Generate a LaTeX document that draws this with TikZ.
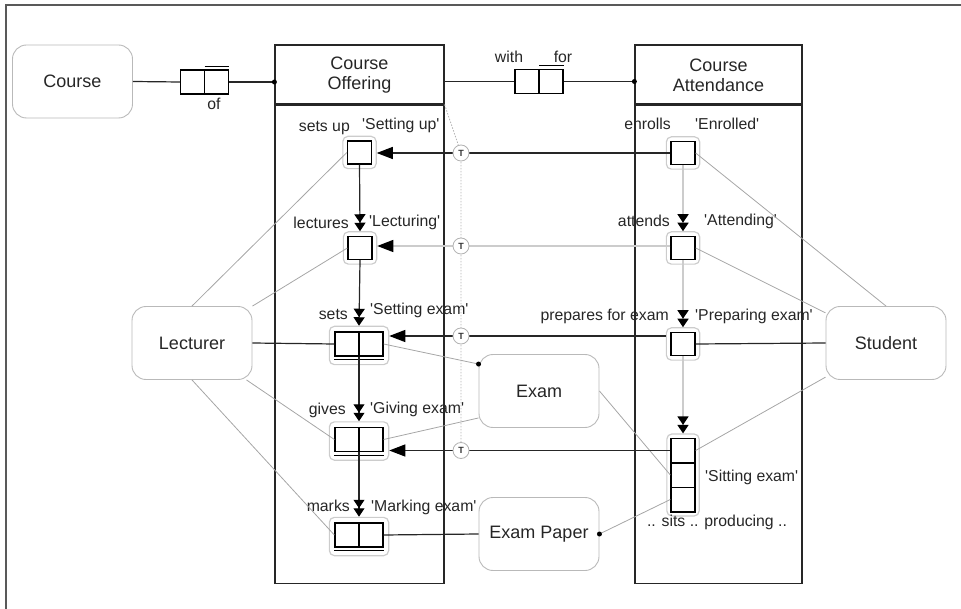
\documentclass[tikz,border=0pt]{standalone}
\usepackage{fontspec}
\setmainfont{Liberation Sans}
\usetikzlibrary{arrows.meta,fit,calc}
\newcommand{\qs}{\textquotesingle}
\begin{document}
\begin{tikzpicture}[x=1pt,y=-1pt,
  ent/.style={draw=gray!55, line width=0.9pt, rounded corners=14pt, minimum width=120pt, minimum height=73pt, font=\fontsize{18}{21}\selectfont, inner sep=0pt, text=black!85},
  lane/.style={draw=black!85, line width=1.2pt, minimum width=169pt, inner sep=0pt},
  hdtext/.style={align=center, font=\fontsize{18}{20}\selectfont, text=black!85, inner sep=0pt},
  sq/.style={draw=black, line width=1.3pt, minimum width=24pt, minimum height=23pt, inner sep=0pt},
  dbl/.style={sq, minimum width=48pt, minimum height=24pt},
  halo/.style={draw=gray!40, line width=1.2pt, rounded corners=5pt, inner sep=4pt},
  lbl/.style={font=\fontsize{15.8}{17}\selectfont, inner sep=0pt, text=black!85},
  blk/.style={draw=black!85, line width=1.2pt},
  gry/.style={draw=gray!70, line width=0.8pt},
  lgry/.style={draw=gray!40, line width=1.3pt},
  hd/.style={-{Triangle[length=16pt,width=12pt,color=black]}},
  vd/.style={-{Triangle[length=8.5pt,width=11pt,color=black]Triangle[length=8.5pt,width=11pt,color=black]}},
  tc/.style={circle, draw=gray!60, fill=white, line width=0.8pt, minimum size=16pt, inner sep=0pt, font=\fontsize{9}{9}\selectfont\bfseries, text=black!80},
]
\useasboundingbox (0,0) rectangle (961,609);
\draw[draw=black!65, line width=1.5pt] (961,5) -- (6,5) -- (6,609);

% entities
\node[ent] (crs) at (72.5,81.5) {Course};
\node[ent] (lec) at (192,343) {Lecturer};
\node[ent] (stu) at (886,343) {Student};
\node[ent] (exm) at (539,391) {Exam};
\node[ent] (ep) at (539,534) {Exam Paper};

% lanes
\node[lane, minimum height=59pt] (coh) at (359.5,74.5) {};
\node[hdtext] (coht) at (359.5,75.5) {Course\\Offering};
\node[lane, minimum height=478pt, anchor=north] (cob) at (coh.south) {};
\node[lane, minimum width=167pt, minimum height=59pt] (cah) at (718.5,74.5) {};
\node[hdtext] (caht) at (718.5,75.5) {Course\\Attendance};
\node[lane, minimum width=167pt, minimum height=478pt, anchor=north] (cab) at (cah.south) {};

% link boxes
\node[dbl, line width=1.1pt] (ofb) at (204.5,82) {};
\node[dbl, line width=1.1pt] (wfb) at (539,81.5) {};
\foreach \n in {ofb,wfb} {
  \draw[line width=1.1pt] (\n.north) -- (\n.south);
  \draw[line width=1.1pt] ([yshift=3pt]\n.north) -- ([yshift=3pt]\n.north east);
}
\node[lbl] (ofl) at (214,104) {of};
\node[lbl] (wl) at (509,57) {with};
\node[lbl] (fl) at (563,57) {for};
\draw[blk] (crs.east) -- (ofb.west);
\draw[blk] (ofb.east) -- (ofb.east -| coh.west);
\fill (ofb.east -| coh.west) circle (2.5pt);
\draw[blk] (wfb.west -| coh.east) -- (wfb.west);
\draw[blk] (wfb.east) -- (wfb.east -| cah.west);
\fill (wfb.east -| cah.west) circle (2.5pt);

% state boxes, Course Offering
\node[sq] (su) at (359.5,152.5) {};
\node[sq] (le) at (360,248) {};
\node[dbl] (se) at (359,344) {};
\node[dbl] (gv) at (359,439.5) {};
\node[dbl] (mk) at (359,535) {};
\foreach \n in {se,gv,mk} {
  \draw[line width=1.3pt] (\n.north) -- (\n.south);
  \draw[line width=1.1pt] ([yshift=-3pt]\n.south west) -- ([yshift=-3pt]\n.south east);
  \coordinate (\n U) at ([yshift=-3pt]\n.south);
}
\node[halo] (suH) [fit=(su)] {};
\node[halo] (leH) [fit=(le)] {};
\node[halo, inner sep=5pt] (seH) [fit=(se)(seU)] {};
\node[halo, inner sep=5pt] (gvH) [fit=(gv)(gvU)] {};
\node[halo, inner sep=5pt] (mkH) [fit=(mk)(mkU)] {};

% state boxes, Course Attendance
\node[sq] (en) at (683,153) {};
\node[sq] (att) at (683,248) {};
\node[sq] (pr) at (683,344) {};
\node[sq, minimum height=24.7pt] (s1) at (683,450.5) {};
\node[sq, minimum height=24.7pt] (s2) at (683,475) {};
\node[sq, minimum height=24.7pt] (s3) at (683,499.5) {};
\node[halo] (enH) [fit=(en)] {};
\node[halo] (attH) [fit=(att)] {};
\node[halo] (prH) [fit=(pr)] {};
\node[halo, inner sep=3.5pt] (sH) [fit=(s1)(s3)] {};

% labels
\node[lbl, anchor=mid east] (l1) at (350,129) {sets up};
\node[lbl, anchor=mid west] (l2) at (362,127) {\qs Setting up\qs};
\node[lbl, anchor=mid east] (l3) at (349,226) {lectures};
\node[lbl, anchor=mid west] (l4) at (369,224) {\qs Lecturing\qs};
\node[lbl, anchor=mid east] (l5) at (348,317) {sets};
\node[lbl, anchor=mid west] (l6) at (370,312) {\qs Setting exam\qs};
\node[lbl, anchor=mid east] (l7) at (346,412) {gives};
\node[lbl, anchor=mid west] (l8) at (370,411) {\qs Giving exam\qs};
\node[lbl, anchor=mid east] (l9) at (350,509) {marks};
\node[lbl, anchor=mid west] (l10) at (371,509) {\qs Marking exam\qs};
\node[lbl, anchor=mid east] (r1) at (671,127) {enrolls};
\node[lbl, anchor=mid west] (r2) at (695,127) {\qs Enrolled\qs};
\node[lbl, anchor=mid east] (r3) at (670,224) {attends};
\node[lbl, anchor=mid west] (r4) at (704,223) {\qs Attending\qs};
\node[lbl, anchor=mid east] (r5) at (669,318) {prepares for exam};
\node[lbl, anchor=mid west] (r6) at (695,318) {\qs Preparing exam\qs};
\node[lbl, anchor=mid west] (r7) at (705,479) {\qs Sitting exam\qs};
\node[lbl, anchor=mid] (r8) at (717,524) {.. sits .. producing ..};

% role lines
\draw[gry] (lec.north) -- (su.west);
\draw[gry] (lec) -- (le.west);
\draw[blk] (lec.east) -- (se.west);
\draw[gry] (lec) -- (gv.west);
\draw[gry] (lec.south) -- (mk.west);
\draw[gry] (stu.north) -- (en.east);
\draw[gry] (stu) -- (att.east);
\draw[blk] (stu.west) -- (pr.east);
\draw[gry] (stu) -- (s1.east);
\draw[gry] (se.east) -- ([yshift=-10pt]exm.north west);
\fill ([yshift=-10pt]exm.north west) circle (2.5pt);
\draw[gry] (gv.east) -- ([yshift=10pt]exm.south west);
\draw[gry] (exm.east) -- (s2.west);
\draw[gry] (s3.west) -- (ep.east);
\fill (ep.east) circle (2.5pt);
\draw[blk] (mk.east) -- (ep.west);

% sequence arrows
\draw[blk, vd] (su.south) -- (leH.north);
\draw[blk, vd] (le.south) -- (seH.north);
\draw[blk, vd] (se.south) -- (gvH.north);
\draw[blk, vd] (gv.south) -- (mkH.north);
\draw[lgry, vd] (en.south) -- (attH.north);
\draw[lgry, vd] (att.south) -- (prH.north);
\draw[lgry, vd] (pr.south) -- (sH.north);

% triggering arrows
\draw[blk, hd] (en.west) -- (en.west -| suH.east);
\draw[lgry, hd] ([yshift=2pt]att.west) -- ([yshift=2pt]att.west -| leH.east);
\draw[blk, hd] ([yshift=8pt]prH.west) -- ([yshift=8pt]prH.west -| seH.east);
\draw[blk, hd] (s1.west) -- (s1.west -| gvH.east);

% T markers
\coordinate (tx) at (461,0);
\coordinate (tp1) at (en.west -| tx);
\coordinate (tp2) at ([yshift=2pt]att.west -| tx);
\coordinate (tp3) at ([yshift=8pt]prH.west -| tx);
\coordinate (tp4) at (s1.west -| tx);
\draw[gray!60, line width=0.8pt, dash pattern=on 1.5pt off 1.5pt] (coh.south east) -- (tp1) -- (tp4);
\node[tc] (T1) at (tp1) {T};
\node[tc] (T2) at (tp2) {T};
\node[tc] (T3) at (tp3) {T};
\node[tc] (T4) at (tp4) {T};
\end{tikzpicture}
\end{document}
